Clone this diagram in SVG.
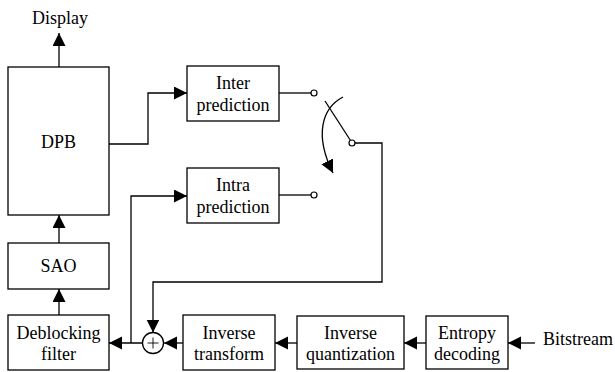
<svg xmlns="http://www.w3.org/2000/svg" width="615" height="372" viewBox="0 0 615 372" font-family="'Liberation Serif', 'Times New Roman', Times, serif">
  <style>
    .box { fill: #fff; stroke: #000; stroke-width: 1.3; }
    .wire { fill: none; stroke: #000; stroke-width: 1.3; }
    .arr { marker-end: url(#head); }
    .node-circle { fill: #fff; stroke: #000; stroke-width: 1.2; }
    .lbl { font-family: 'Liberation Serif', 'Times New Roman', Times, serif; font-size: 18px; fill: #000; text-anchor: middle; }
  </style>
  <defs>
    <marker id="head" markerUnits="userSpaceOnUse" markerWidth="14" markerHeight="14" refX="13" refY="6.5" orient="auto">
      <path d="M0,0 L13,6.5 L0,13 Z" fill="#000"/>
    </marker>
  </defs>
  <rect width="615" height="372" fill="#fff"/>

  <g id="connectors">
    <!-- output to display -->
    <path class="wire arr" d="M59,67 V33"/>
    <!-- SAO to DPB -->
    <path class="wire arr" d="M59,243 V215"/>
    <!-- deblocking to SAO -->
    <path class="wire arr" d="M59,315 V289"/>
    <!-- DPB to inter prediction -->
    <path class="wire arr" d="M109,144 H148 V93 H187"/>
    <!-- adder to deblocking filter -->
    <path class="wire arr" d="M142.5,343 H109"/>
    <!-- reconstructed samples to intra prediction -->
    <path class="wire arr" d="M131,343 V196 H187"/>
    <!-- residual chain -->
    <path class="wire arr" d="M183,343 H164"/>
    <path class="wire arr" d="M297,343 H275"/>
    <path class="wire arr" d="M426,343 H404"/>
    <path class="wire arr" d="M535,343 H508"/>
    <!-- prediction outputs to switch contacts -->
    <path class="wire" d="M279,93 H311"/>
    <path class="wire" d="M279,195 H311"/>
    <!-- switch blade -->
    <path class="wire" d="M325,101 L350.5,140.5"/>
    <!-- switch output back to adder -->
    <path class="wire arr" d="M355,143 H382 V282 H153 V332.5"/>
    <!-- switch direction arc -->
    <path class="wire arr" d="M343,97 C322,108 314,135 333,173"/>
    <circle class="node-circle" cx="314" cy="93" r="3"/>
    <circle class="node-circle" cx="314" cy="195" r="3"/>
    <circle class="node-circle" cx="352" cy="143" r="3"/>
  </g>

  <g id="display">
    <text class="lbl" x="60" y="24">Display</text>
  </g>

  <g id="dpb">
    <rect class="box" x="8" y="67" width="101" height="148"/>
    <text class="lbl" x="58.5" y="148">DPB</text>
  </g>

  <g id="sao">
    <rect class="box" x="8" y="243" width="101" height="46"/>
    <text class="lbl" x="58.5" y="272">SAO</text>
  </g>

  <g id="deblocking">
    <rect class="box" x="8" y="315" width="101" height="55"/>
    <text class="lbl" x="58.5" y="339">Deblocking</text>
    <text class="lbl" x="58.5" y="360">filter</text>
  </g>

  <g id="inter">
    <rect class="box" x="187" y="66" width="92" height="55"/>
    <text class="lbl" x="233" y="89">Inter</text>
    <text class="lbl" x="233" y="111">prediction</text>
  </g>

  <g id="intra">
    <rect class="box" x="187" y="168" width="92" height="55"/>
    <text class="lbl" x="233" y="191">Intra</text>
    <text class="lbl" x="233" y="213">prediction</text>
  </g>

  <g id="adder">
    <circle cx="153" cy="343" r="10.5" fill="#fff" stroke="#000" stroke-width="1.3"/>
    <path d="M147.5,343 H158.5 M153,337.5 V348.5" stroke="#000" stroke-width="0.9"/>
  </g>

  <g id="inverse-transform">
    <rect class="box" x="183" y="315" width="92" height="55"/>
    <text class="lbl" x="229" y="339">Inverse</text>
    <text class="lbl" x="229" y="360">transform</text>
  </g>

  <g id="inverse-quantization">
    <rect class="box" x="297" y="316" width="107" height="53"/>
    <text class="lbl" x="350.5" y="339">Inverse</text>
    <text class="lbl" x="350.5" y="360">quantization</text>
  </g>

  <g id="entropy">
    <rect class="box" x="426" y="316" width="82" height="53"/>
    <text class="lbl" x="467" y="339">Entropy</text>
    <text class="lbl" x="467" y="360">decoding</text>
  </g>

  <g id="bitstream">
    <text class="lbl" x="578" y="345">Bitstream</text>
  </g>
</svg>
